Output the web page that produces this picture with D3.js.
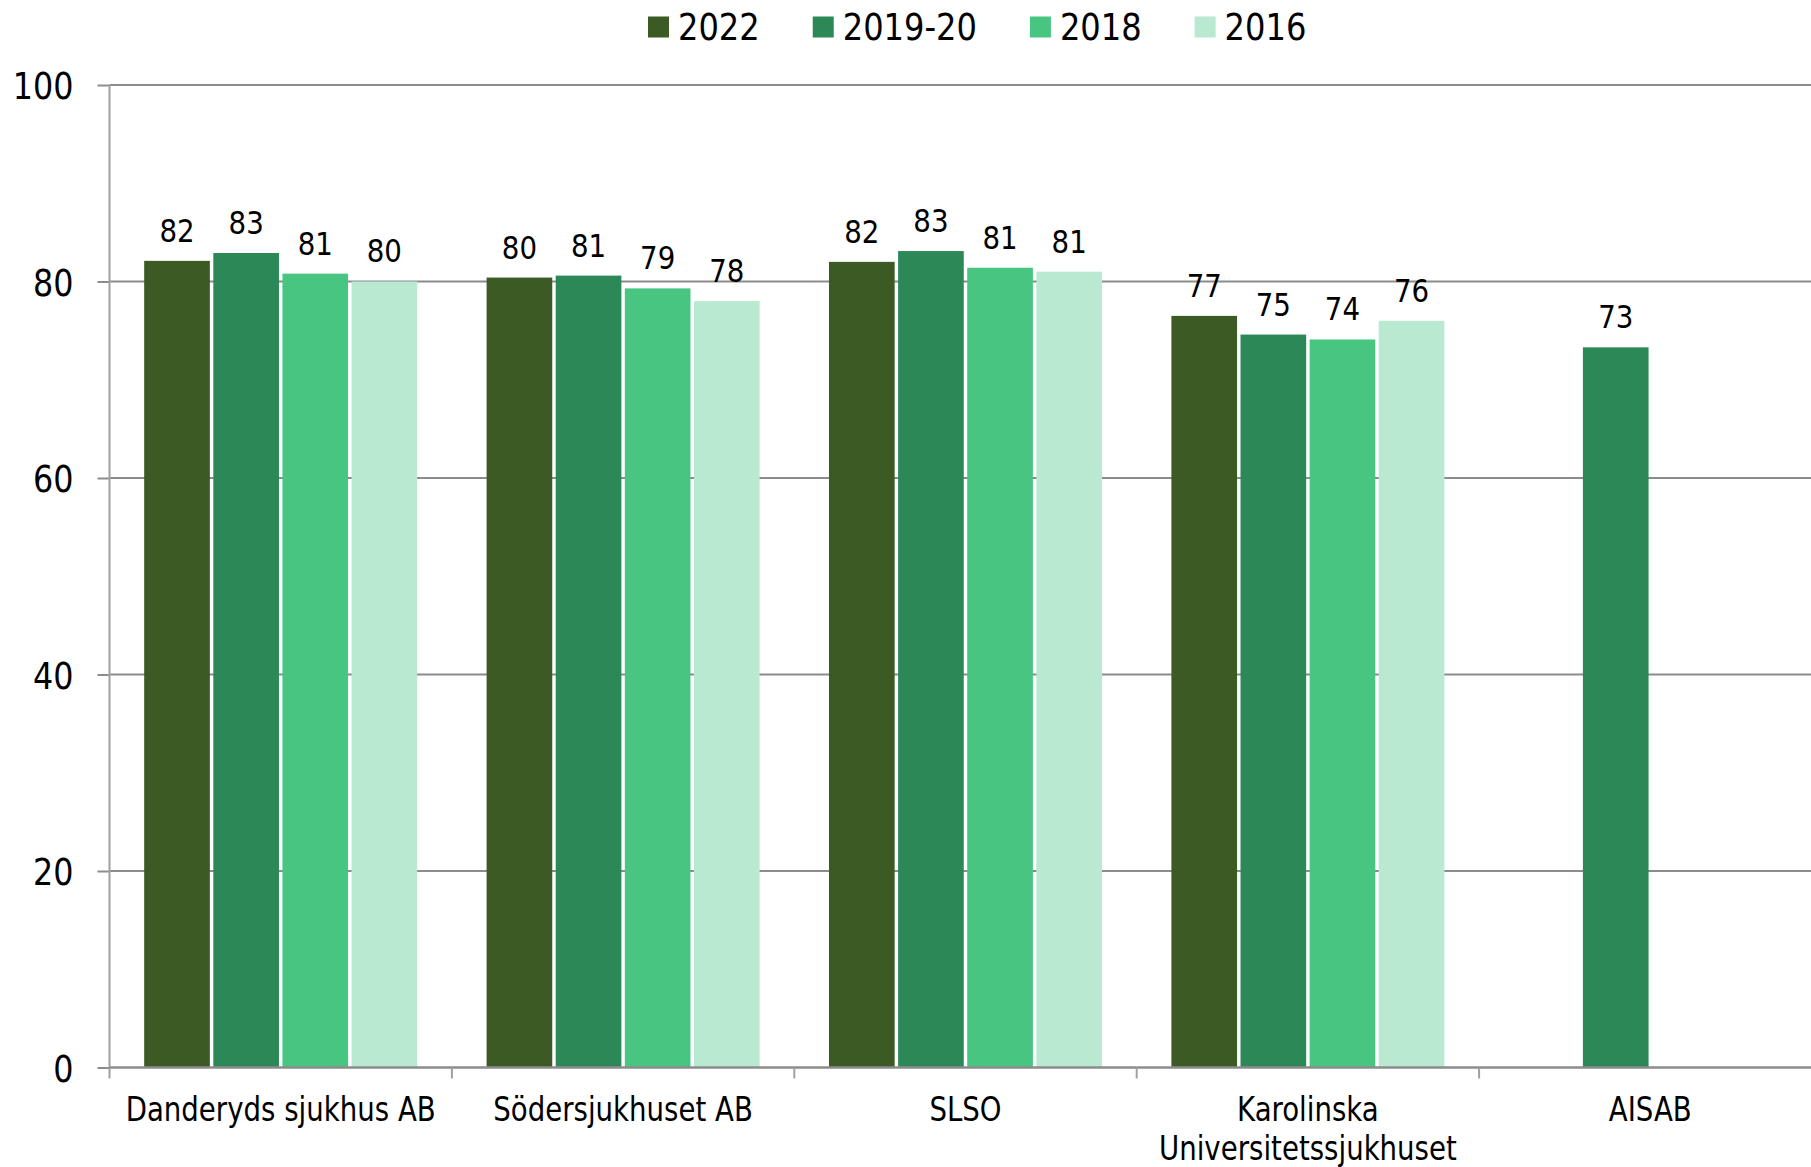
<!DOCTYPE html>
<html>
<head>
<meta charset="utf-8">
<script src="https://cdn.jsdelivr.net/npm/d3@7"></script>
<style>
  html, body { margin: 0; padding: 0; background: #ffffff; }
  svg { display: block; }
  text { font-family: "DejaVu Sans Condensed", "DejaVu Sans", sans-serif; fill: #000; }
</style>
</head>
<body>
<svg id="chart" width="1811" height="1167"></svg>
<script>
// ---- data ----
const categories = ["Danderyds sjukhus AB", "Södersjukhuset AB", "SLSO", "Karolinska Universitetssjukhuset", "AISAB"];
const seriesNames = ["2022", "2019-20", "2018", "2016"];
const values2022   = [82.1, 80.4, 82.0, 76.5, null];
const values201920 = [82.9, 80.6, 83.1, 74.6, 73.3];
const values2018   = [80.8, 79.3, 81.4, 74.1, null];
const values2016   = [80.0, 78.0, 81.0, 76.0, null];
const seriesColors = ["#3c5a24", "#2c8957", "#48c580", "#b9e9d1"];
const yTicks = [0, 20, 40, 60, 80, 100];

const seriesValues = [values2022, values201920, values2018, values2016];

// horizontal condensing of text around its anchor (source font is narrower)
function condense(sel, k) {
  sel.each(function() {
    const t = d3.select(this);
    const x = +t.attr("x") || 0;
    const yy = +t.attr("y") || 0;
    t.attr("transform", `translate(${x},${yy}) scale(${k},1) translate(${-x},${-yy})`);
  });
}

// ---- layout ----
const svg = d3.select("#chart");
const margin = { left: 109.5, top: 85, bottom: 1067.5 };
const catWidth = 342.4;
const plotRight = margin.left + catWidth * categories.length;

const x0 = d3.scaleBand().domain(categories).range([margin.left, plotRight]).paddingInner(0).paddingOuter(0);
const x1 = d3.scaleBand().domain(seriesNames).range([catWidth * 0.1013, catWidth * (1 - 0.1013)]).paddingInner(0.05).paddingOuter(0);
const y = d3.scaleLinear().domain([0, 100]).range([margin.bottom, margin.top]);

// gridlines
svg.append("g").selectAll("line")
  .data(yTicks.filter(t => t > 0))
  .join("line")
  .attr("x1", margin.left).attr("x2", plotRight)
  .attr("y1", d => y(d)).attr("y2", d => y(d))
  .attr("stroke", "#8c8c8c").attr("stroke-width", 2);

// bars
const rows = [];
categories.forEach((c, ci) => {
  seriesNames.forEach((s, si) => {
    const v = seriesValues[si][ci];
    if (v !== null && v !== undefined) rows.push({ cat: c, series: s, value: v, color: seriesColors[si] });
  });
});

svg.append("g").selectAll("rect")
  .data(rows)
  .join("rect")
  .attr("x", d => x0(d.cat) + x1(d.series))
  .attr("y", d => y(d.value))
  .attr("width", x1.bandwidth())
  .attr("height", d => y(0) - y(d.value))
  .attr("fill", d => d.color);

// value labels
const vl = svg.append("g").selectAll("text")
  .data(rows)
  .join("text")
  .attr("x", d => x0(d.cat) + x1(d.series) + x1.bandwidth() / 2)
  .attr("y", d => y(d.value) - 19)
  .attr("text-anchor", "middle")
  .style("font-size", "32px")
  .text(d => d3.format(".0f")(d.value));
condense(vl, 0.96);

// y axis
const yAxis = d3.axisLeft(y).tickValues(yTicks).tickSize(12).tickPadding(24).tickSizeOuter(0);
const gy = svg.append("g").attr("transform", `translate(${margin.left},0)`).call(yAxis);
gy.select(".domain").remove();
gy.selectAll(".tick line").attr("stroke", "#8c8c8c").attr("stroke-width", 2);
gy.selectAll(".tick text").style("font-size", "38px").attr("dy", "0.36em").attr("y", 0);
condense(gy.selectAll(".tick text"), 0.93);
svg.append("line")
  .attr("x1", margin.left).attr("x2", margin.left)
  .attr("y1", y(100)).attr("y2", y(0) + 11)
  .attr("stroke", "#a0a0a0").attr("stroke-width", 2);

// x axis
svg.append("line")
  .attr("x1", margin.left).attr("x2", plotRight)
  .attr("y1", y(0)).attr("y2", y(0))
  .attr("stroke", "#8c8c8c").attr("stroke-width", 2.5);
svg.append("g").selectAll("line")
  .data(categories.slice(1).concat(["__end"]))
  .join("line")
  .attr("x1", d => d === "__end" ? plotRight : x0(d))
  .attr("x2", d => d === "__end" ? plotRight : x0(d))
  .attr("y1", y(0)).attr("y2", y(0) + 11)
  .attr("stroke", "#a0a0a0").attr("stroke-width", 2);

const xScaleK = 0.93;
const xl = svg.append("g").selectAll("text")
  .data(categories)
  .join("text")
  .attr("x", d => x0(d) + x0.bandwidth() / 2)
  .attr("y", 1121.5)
  .attr("text-anchor", "middle")
  .style("font-size", "33px");

xl.each(function(d) {
  const t = d3.select(this);
  const words = d.split(" ");
  const maxW = catWidth - 10;
  let lines = [];
  let cur = [];
  const probe = t.append("tspan");
  words.forEach(w => {
    const test = cur.concat([w]).join(" ");
    probe.text(test);
    if (probe.node().getComputedTextLength() * xScaleK > maxW && cur.length) {
      lines.push(cur.join(" "));
      cur = [w];
    } else {
      cur.push(w);
    }
  });
  if (cur.length) lines.push(cur.join(" "));
  probe.remove();
  const cx = x0(d) + x0.bandwidth() / 2;
  lines.forEach((ln, i) => {
    t.append("tspan").attr("x", cx).attr("dy", i === 0 ? 0 : 38.3).text(ln);
  });
});
condense(xl, xScaleK);

// legend
const legendK = 0.94;
const legend = svg.append("g");
let lx = 648;
seriesNames.forEach((s, i) => {
  legend.append("rect")
    .attr("x", lx).attr("y", 16.5).attr("width", 21).attr("height", 21)
    .attr("fill", seriesColors[i]);
  const t = legend.append("text")
    .attr("x", lx + 30).attr("y", 40.5)
    .style("font-size", "38px")
    .text(s);
  condense(t, legendK);
  lx += 30 + t.node().getComputedTextLength() * legendK + 53;
});
</script>
</body>
</html>
